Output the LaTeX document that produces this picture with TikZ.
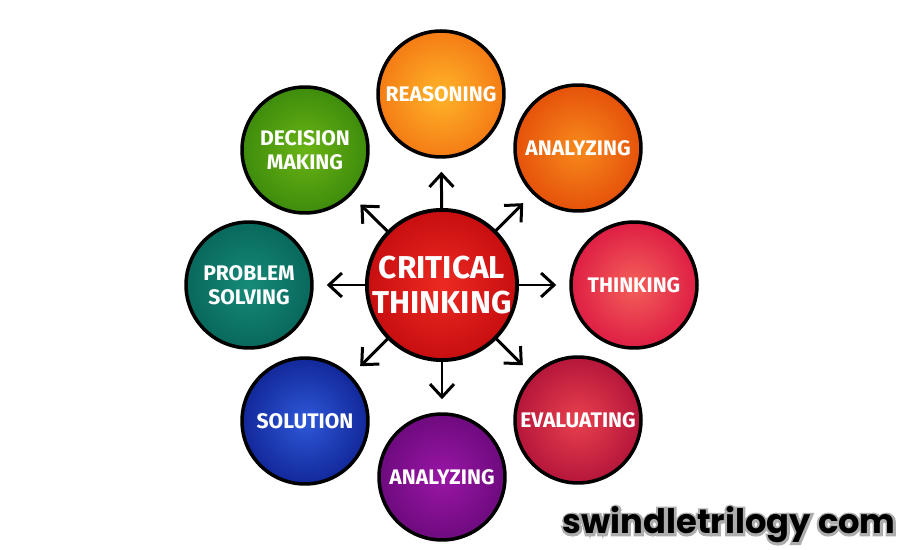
\documentclass[tikz,border=0pt]{standalone}
\usepackage{fontspec}
\setmainfont{Fira Sans}
\newfontfamily\markfont{Poppins}[UprightFont=* Bold]
\usetikzlibrary{arrows.meta}

% ring colours (inner / outer)
\definecolor{critIn}{HTML}{EC2A22}
\definecolor{critOut}{HTML}{C80E10}
\definecolor{reasIn}{HTML}{FFB42A}
\definecolor{reasOut}{HTML}{F47C14}
\definecolor{anaIn}{HTML}{F88A1C}
\definecolor{anaOut}{HTML}{E5520A}
\definecolor{thinkIn}{HTML}{F4605A}
\definecolor{thinkOut}{HTML}{DE1E44}
\definecolor{evalIn}{HTML}{E8404E}
\definecolor{evalOut}{HTML}{B5163A}
\definecolor{purpIn}{HTML}{9A16A6}
\definecolor{purpOut}{HTML}{6E0A7E}
\definecolor{solIn}{HTML}{2E58D8}
\definecolor{solOut}{HTML}{12289A}
\definecolor{probIn}{HTML}{168A78}
\definecolor{probOut}{HTML}{08685C}
\definecolor{decIn}{HTML}{6AB414}
\definecolor{decOut}{HTML}{3E8C0C}

% grey halo round the watermark letters (stroked text behind filled text)
\newcommand{\halotext}[1]{%
  \rlap{\special{pdf:literal direct 1 Tr 2.6 w 0.68 0.68 0.68 RG}#1\special{pdf:literal direct 0 Tr}}#1}

\begin{document}
\begin{tikzpicture}[
    x=0.02cm, y=-0.02cm,
    text=white,
    >={Straight Barb[length=2.6mm, width=4.8mm, line width=1.7pt]},
    ring/.style={circle, draw=black, line width=2pt, minimum size=2.52cm, inner sep=0pt,
        align=center, font=\bfseries\fontsize{12}{14}\selectfont},
    hub/.style={circle, draw=black, line width=2.2pt, minimum size=3cm, inner sep=0pt,
        align=center, font=\bfseries\fontsize{18}{20}\selectfont, inner color=critIn, outer color=critOut},
    arrowline/.style={->, draw=black, line width=1.7pt, line cap=round, shorten >=0.26cm},
]

\useasboundingbox[fill=white] (0,0) rectangle (900,550);

% ==================== CENTRE ====================
\node[hub] (crit) at (442,285) {CRITICAL\\THINKING};

% ==================== OUTER RING ====================
\node[ring, inner color=reasIn,  outer color=reasOut]  (reason)   at (441,94)  {REASONING};
\node[ring, inner color=anaIn,   outer color=anaOut]   (analyzeA) at (578,148) {ANALYZING};
\node[ring, inner color=thinkIn, outer color=thinkOut] (think)    at (634,285) {THINKING};
\node[ring, inner color=evalIn,  outer color=evalOut]  (evaluate) at (578,420) {EVALUATING};
\node[ring, inner color=purpIn,  outer color=purpOut]  (analyzeB) at (442,477) {ANALYZING};
\node[ring, inner color=solIn,   outer color=solOut]   (solution) at (305,421) {SOLUTION};
\node[ring, inner color=probIn,  outer color=probOut]  (problem)  at (249,285) {PROBLEM\\SOLVING};
\node[ring, inner color=decIn,   outer color=decOut]   (decision) at (305,150) {DECISION\\MAKING};

% ==================== ARROWS ====================
\foreach \target in {reason, analyzeA, think, evaluate, analyzeB, solution, problem, decision}
    \draw[arrowline] (crit) -- (\target);

% watermark
\node[anchor=base east, text=black, inner sep=0pt, font=\markfont\fontsize{19.2}{20}\selectfont]
    (mark) at (896,534) {\halotext{swindletrilogy com}};

\end{tikzpicture}
\end{document}
